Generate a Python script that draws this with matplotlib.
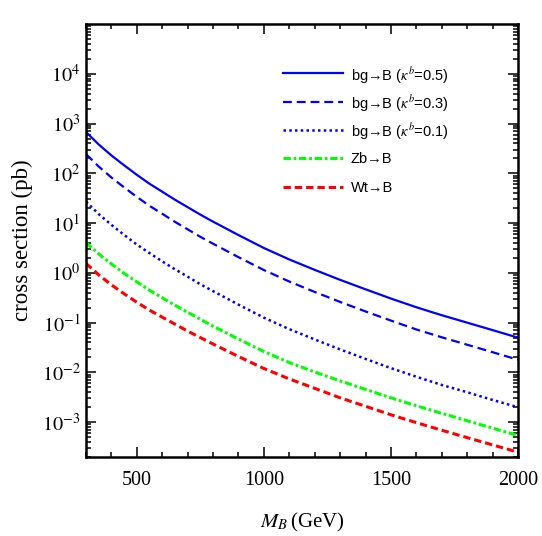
import matplotlib
matplotlib.use("Agg")
import matplotlib.pyplot as plt
from matplotlib.ticker import LogLocator, MultipleLocator, FixedLocator, NullFormatter

# B-quark mass (GeV)
mass = [300, 350, 400, 450, 500, 550, 600, 650, 700, 750, 800, 900, 1000,
        1100, 1200, 1300, 1400, 1500, 1600, 1700, 1800, 1900, 2000]

# cross sections in pb
bg_k05 = [676, 380, 229, 145, 93.3, 61.7, 42.7, 29.5, 20.9, 14.8, 10.7, 5.75, 3.16,
          1.86, 1.15, 0.724, 0.468, 0.305, 0.204, 0.141, 0.100, 0.0708, 0.050]
bg_k03 = [243, 137, 82.4, 52.2, 33.6, 22.2, 15.4, 10.6, 7.5, 5.3, 3.85, 2.07, 1.14,
          0.67, 0.414, 0.261, 0.168, 0.110, 0.073, 0.0508, 0.036, 0.0255, 0.018]
bg_k01 = [27, 15.2, 9.2, 5.8, 3.7, 2.5, 1.7, 1.18, 0.84, 0.59, 0.43, 0.23, 0.126,
          0.074, 0.046, 0.029, 0.0187, 0.0122, 0.0082, 0.0056, 0.0040, 0.0028, 0.0020]
zb = [4.07, 2.40, 1.51, 0.977, 0.661, 0.447, 0.316, 0.224, 0.162, 0.117, 0.085, 0.0468,
      0.0263, 0.0158, 0.0102, 0.00676, 0.00457, 0.00309, 0.00214, 0.00151, 0.00107,
      0.00076, 0.00054]
wt = [1.55, 0.912, 0.575, 0.380, 0.257, 0.178, 0.129, 0.0933, 0.0676, 0.0501, 0.0372,
      0.0209, 0.0120, 0.00741, 0.00479, 0.00309, 0.00209, 0.00141, 0.00098, 0.00069,
      0.00049, 0.00035, 0.00025]

labels = ["bg\u2192B ($\\kappa^b$=0.5)",
          "bg\u2192B ($\\kappa^b$=0.3)",
          "bg\u2192B ($\\kappa^b$=0.1)",
          "Zb\u2192B",
          "Wt\u2192B"]

plt.rcParams['mathtext.fontset'] = 'stix'
plt.rcParams['font.family'] = ['Liberation Serif', 'DejaVu Serif']

fig = plt.figure(figsize=(5.42, 5.36), dpi=100)
ax = fig.add_axes([0.1587, 0.1474, 0.7970, 0.8078])

styles = [dict(color='#0000ff', lw=1.6),
          dict(color='#0000ff', lw=1.6, dashes=(4.0, 2.2)),
          dict(color='#0000ff', lw=1.8, dashes=(1.0, 1.3)),
          dict(color='#00ff00', lw=2.2, dashes=(2.4, 0.9, 0.9, 0.9)),
          dict(color='#ff0000', lw=2.2, dashes=(2.4, 1.3))]

for ys, st in zip([bg_k05, bg_k03, bg_k01, zb, wt], styles):
    ax.plot(mass, ys, **st)

# legend, drawn by hand so the rows are evenly spaced
for i, (lab, st) in enumerate(zip(labels, styles)):
    yy = 0.886 - i * 0.0654
    ax.plot([0.456, 0.595], [yy, yy], transform=ax.transAxes, **st)
    ax.text(0.613, yy - 0.002, lab, transform=ax.transAxes, va='center', ha='left',
            fontsize=10.5, family=['Liberation Sans', 'DejaVu Sans'])

ax.set_yscale('log')
ax.set_xlim(300, 2000)
ax.set_ylim(2e-4, 1e5)

ax.xaxis.set_major_locator(FixedLocator([500, 1000, 1500, 2000]))
ax.xaxis.set_minor_locator(MultipleLocator(100))
ax.yaxis.set_major_locator(FixedLocator([1e-3, 1e-2, 1e-1, 1, 1e1, 1e2, 1e3, 1e4]))
ax.yaxis.set_minor_locator(LogLocator(base=10, subs=range(2, 10), numticks=20))
ax.yaxis.set_minor_formatter(NullFormatter())
ax.set_yticklabels([r"$10^{-3}$", r"$10^{-2}$", r"$10^{-1}$", r"$10^{0}$",
                    r"$10^{1}$", r"$10^{2}$", r"$10^{3}$", r"$10^{4}$"])

ax.tick_params(which='both', direction='in', top=True, right=True, width=1.1,
               labelsize=14.5)
ax.tick_params(axis='x', pad=10)
ax.tick_params(axis='y', pad=4)
ax.tick_params(which='major', length=7)
ax.tick_params(which='minor', length=3.5)
for s in ax.spines.values():
    s.set_linewidth(1.8)

ax.set_xlabel(r"$M_B\,$(GeV)", fontsize=15, labelpad=15)
ax.set_ylabel("cross section (pb)", fontsize=16.5, labelpad=6)

fig.savefig("out.png", dpi=100)
